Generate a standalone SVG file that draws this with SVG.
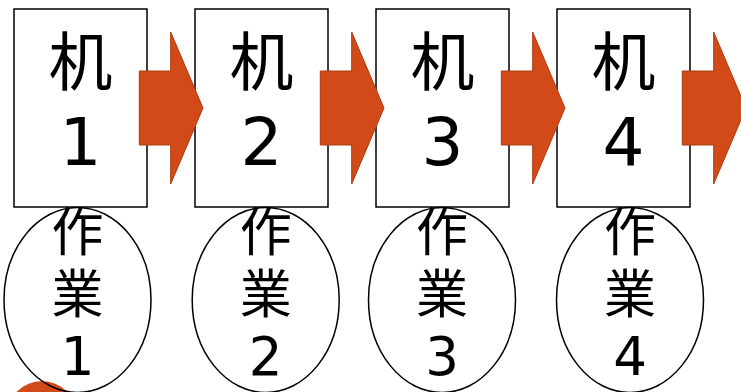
<svg xmlns="http://www.w3.org/2000/svg" width="741" height="392" viewBox="0 0 741 392">
<defs>
<style>
.box{fill:#fff;stroke:#000;stroke-width:1.5}
.ell{fill:none;stroke:#000;stroke-width:1.5}
.arr{fill:#D24A18;stroke:#A83C12;stroke-width:1}
.bt{font-family:"DejaVu Sans","Noto Sans CJK JP",sans-serif;font-size:64px;text-anchor:middle;fill:#000}
.et{font-family:"DejaVu Sans","Noto Sans CJK JP",sans-serif;font-size:52px;text-anchor:middle;fill:#000}
.d{font-size:66px}
.de{font-size:53px}
</style>
<polygon id="arrow" class="arr" points="139.3,71 170.7,71 170.7,32 203,108 170.7,184 170.7,145 139.3,145"/>
</defs>
<rect width="741" height="392" fill="#fff"/>
<circle cx="42" cy="416" r="35" fill="#D24A18"/>
<g id="machine1"><rect class="box" x="14" y="9" width="133" height="198"/><text class="bt" x="80.5" y="85">机</text><text class="bt d" x="80.5" y="165">1</text></g>
<g id="machine2"><rect class="box" x="195" y="9" width="133" height="198"/><text class="bt" x="261.5" y="85">机</text><text class="bt d" x="261.5" y="165">2</text></g>
<g id="machine3"><rect class="box" x="376" y="9" width="133" height="198"/><text class="bt" x="442.5" y="85">机</text><text class="bt d" x="442.5" y="165">3</text></g>
<g id="machine4"><rect class="box" x="557" y="9" width="133" height="198"/><text class="bt" x="623.5" y="85">机</text><text class="bt d" x="623.5" y="165">4</text></g>
<g id="connectors">
<use href="#arrow"/>
<use href="#arrow" x="181"/>
<use href="#arrow" x="362"/>
<use href="#arrow" x="543"/>
</g>
<g id="task1"><ellipse class="ell" cx="77.5" cy="300" rx="73.5" ry="92.5"/><text class="et" x="77.5" y="251">作</text><text class="et" x="77.5" y="313">業</text><text class="et de" x="77.5" y="375">1</text></g>
<g id="task2"><ellipse class="ell" cx="265.7" cy="300" rx="73.5" ry="92.5"/><text class="et" x="265.7" y="251">作</text><text class="et" x="265.7" y="313">業</text><text class="et de" x="265.7" y="375">2</text></g>
<g id="task3"><ellipse class="ell" cx="442" cy="300" rx="73.5" ry="92.5"/><text class="et" x="442" y="251">作</text><text class="et" x="442" y="313">業</text><text class="et de" x="442" y="375">3</text></g>
<g id="task4"><ellipse class="ell" cx="630" cy="300" rx="73.5" ry="92.5"/><text class="et" x="630" y="251">作</text><text class="et" x="630" y="313">業</text><text class="et de" x="630" y="375">4</text></g>
</svg>
